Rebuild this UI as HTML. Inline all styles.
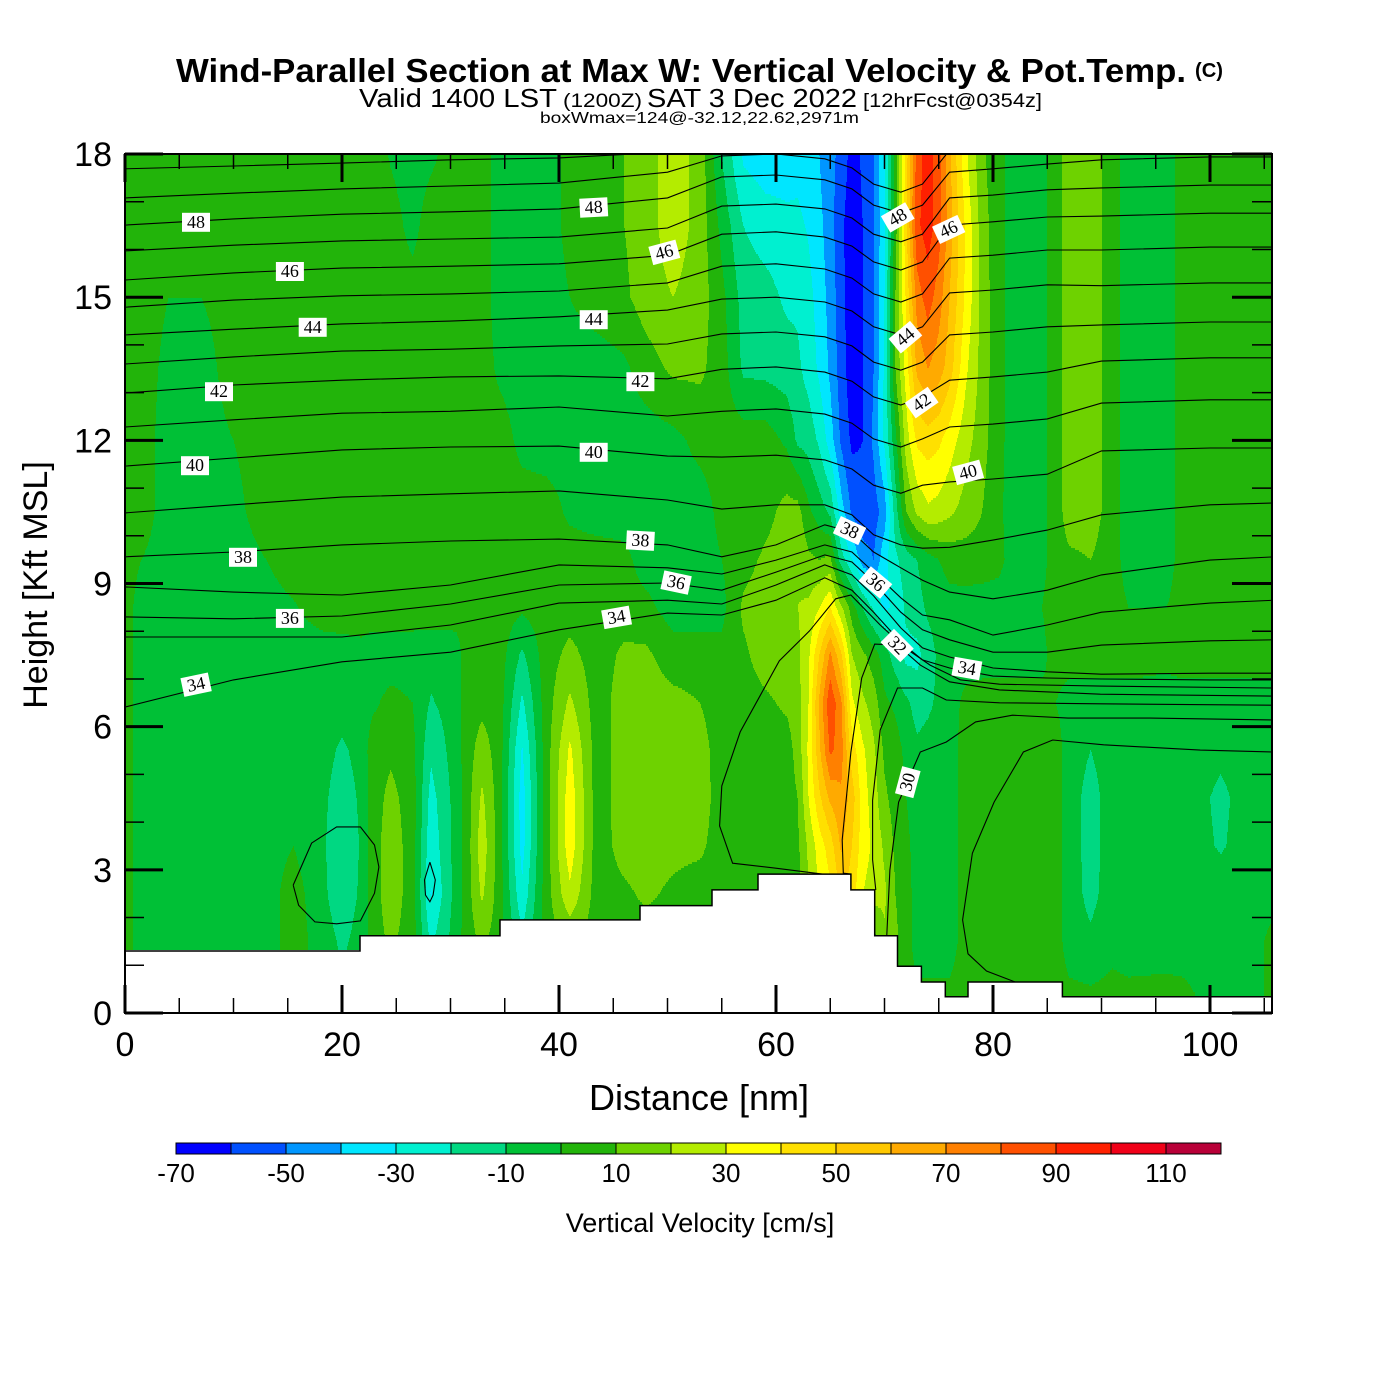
<!DOCTYPE html>
<html><head><meta charset="utf-8"><title>Wind-Parallel Section</title>
<style>
html,body{margin:0;padding:0;background:#fff;}
svg{display:block;}
text{font-family:"Liberation Sans",sans-serif;}
</style></head>
<body>
<svg id="chart" xmlns="http://www.w3.org/2000/svg" width="1400" height="1400" viewBox="0 0 1400 1400">
<rect x="0" y="0" width="1400" height="1400" fill="#fff"/>
<defs><clipPath id="plotclip"><rect x="125" y="154" width="1147" height="859"/></clipPath></defs>
<g>
<text x="176" y="82" font-size="33" font-weight="bold" textLength="1010" lengthAdjust="spacingAndGlyphs">Wind-Parallel Section at Max W: Vertical Velocity &amp; Pot.Temp.</text>
<text x="1195" y="77" font-size="20" font-weight="bold" textLength="28" lengthAdjust="spacingAndGlyphs">(C)</text>
<text x="359" y="107" font-size="26" textLength="198" lengthAdjust="spacingAndGlyphs">Valid 1400 LST</text>
<text x="563" y="107" font-size="19" textLength="79" lengthAdjust="spacingAndGlyphs">(1200Z)</text>
<text x="647" y="107" font-size="26" textLength="210" lengthAdjust="spacingAndGlyphs">SAT 3 Dec 2022</text>
<text x="863" y="107" font-size="19" textLength="179" lengthAdjust="spacingAndGlyphs">[12hrFcst@0354z]</text>
<text x="540" y="123" font-size="16" textLength="319" lengthAdjust="spacingAndGlyphs">boxWmax=124@-32.12,22.62,2971m</text>
</g>
<g id="heat"></g>
<g id="iso" clip-path="url(#plotclip)"></g>
<g id="terrain"></g>
<g id="labels"></g>
<g id="axes"></g>
<g id="cbar"></g>
<text x="699" y="1110" font-size="36" text-anchor="middle">Distance [nm]</text>
<text x="0" y="0" font-size="34" text-anchor="middle" transform="translate(47,585) rotate(-90)">Height [Kft MSL]</text>
<text x="700" y="1232" font-size="27" text-anchor="middle">Vertical Velocity [cm/s]</text>
</svg>
<script>
// ---------- DATA ----------
const gridNm = [0,1.5,4,7,10,13,15.5,18.3,20,21.8,22.8,24.5,26.5,28.2,30.5,31.5,32.9,34.5,36.6,38.8,41,43.5,46,48,50.5,53,55,57,59,61,62,63,64,65,66,67,68,69,70,71,72,73,74,75,76,77.5,79,80.5,82,84.5,85.8,87,89,91,92.5,96,97.5,101,104,106];
const gridKft = [0,1.5,2.5,3.5,4.5,5.5,6.5,7.5,8.5,9.5,10.5,12,13.5,15,16.5,18];
const wByColumn = [
[5,5,5,5,5,5,5,5,5,5,5,5,5,5,5,5],
[-5,-5,-5,-5,-5,-5,-5,-5,-5,0,5,5,5,5,5,5],
[-5,-5,-5,-5,-5,-5,-5,-5,-5,-5,-5,-5,-3,0,5,5],
[-5,-5,-5,-5,-5,-5,-5,-5,-5,-5,-5,-5,-5,0,5,5],
[-5,-5,-5,-5,-5,-5,-5,-5,-5,-5,-3,0,5,5,5,5],
[-5,-5,-5,-5,-5,-5,-5,-5,-4,0,5,5,5,5,5,5],
[5,5,5,0,-5,-5,-5,-5,-1,5,5,5,5,5,5,5],
[-5,-5,-8,-9,-8,-6,-5,-5,5,5,5,5,5,5,5,5],
[-5,-12,-17,-17,-16,-12,-5,-4,5,5,5,5,5,5,5,5],
[-5,-6,-8,-9,-8,-6,-5,-3,5,5,5,5,5,5,5,5],
[3,5,5,5,5,5,-2,-5,5,5,5,5,5,5,5,5],
[5,12,16,16,13,8,3,-5,5,5,5,5,5,5,4,-1],
[5,5,5,5,5,3,0,-5,5,5,5,5,5,4,-3,-5],
[-10,-22,-31,-27,-24,-18,-11,-6,5,5,5,5,5,5,5,-2],
[-5,-5,-6,-6,-6,-5,-5,-5,5,5,5,5,5,5,5,5],
[5,5,5,5,5,5,5,5,5,5,5,5,5,5,5,5],
[5,12,22,26,22,15,7,5,5,5,5,5,5,5,5,5],
[5,5,5,5,5,5,5,5,5,5,5,5,-2,-5,-5,-5],
[-5,-18,-28,-34,-35,-31,-22,-12,2,5,5,-3,-5,-5,-5,-5],
[5,5,5,5,5,5,5,5,5,5,5,-5,-5,-5,-5,-5],
[5,12,28,36,36,32,22,13,5,5,-2,-5,-5,0,3,3],
[5,5,5,5,5,5,5,5,5,5,-5,-5,-5,5,5,5],
[5,5,8,14,15,15,15,12,5,3,-5,-5,-2,8,10,10],
[5,5,12,15,16,16,15,12,3,-5,-5,-5,5,15,15,15],
[5,5,8,13,15,15,13,5,-5,-5,-5,-3,12,20,26,26],
[5,5,5,12,15,14,10,5,-5,-5,-5,3,12,15,16,16],
[5,5,5,5,5,5,5,3,-3,0,3,5,5,3,-3,-10],
[5,5,5,5,5,5,5,8,12,6,3,5,-12,-14,-20,-32],
[5,5,5,5,5,5,8,15,16,12,6,5,-13,-16,-25,-36],
[5,5,5,5,5,5,12,16,18,17,14,-2,-15,-22,-27,-36],
[5,5,5,8,10,14,16,18,20,18,14,-12,-18,-22,-28,-33],
[5,5,20,22,30,32,30,28,22,12,2,-14,-24,-27,-31,-36],
[5,5,30,35,48,58,62,50,30,10,-5,-22,-32,-34,-37,-40],
[5,5,38,45,62,82,88,72,40,12,-12,-35,-42,-44,-46,-48],
[5,5,50,62,68,75,72,52,22,-15,-35,-52,-55,-56,-57,-52],
[5,5,45,50,55,45,32,20,5,-30,-52,-62,-66,-67,-68,-65],
[5,5,30,35,35,32,22,12,-10,-45,-57,-60,-60,-60,-60,-58],
[5,5,25,28,25,22,15,5,-22,-50,-55,-48,-50,-50,-50,-50],
[5,18,22,18,12,8,2,-5,-32,-33,-45,-28,-28,-30,-32,-30],
[5,12,10,8,6,5,-2,-15,-28,-22,-15,-3,10,10,5,5],
[5,5,5,3,0,-3,-8,-23,-18,-15,10,25,35,42,48,45],
[5,-5,-5,-5,-5,-8,-14,-23,-14,-10,22,42,62,75,88,85],
[5,-5,-5,-5,-5,-6,-12,-15,-8,-4,28,45,70,85,95,95],
[5,-5,-5,-5,-5,-5,-8,-8,-5,0,26,42,65,75,85,85],
[5,-5,-5,-5,-5,-5,-5,-5,-3,3,22,35,55,60,65,62],
[5,5,5,5,5,5,3,-5,-4,5,16,24,32,38,38,32],
[5,5,5,5,5,5,5,-5,-5,5,10,14,16,16,15,12],
[5,5,5,5,5,5,5,-5,-5,3,2,3,3,3,3,3],
[5,5,5,5,5,5,5,-5,-5,-5,-5,-5,-5,-5,-5,-5],
[5,5,5,5,5,5,3,-3,0,-3,-3,-3,-3,-3,-3,-3],
[5,5,5,5,5,5,0,5,5,5,5,5,5,5,5,5],
[5,-5,-5,-5,-5,-5,-5,5,5,8,15,15,15,15,15,15],
[5,-8,-13,-14,-14,-10,-5,5,5,10,15,15,15,15,15,15],
[5,-3,-5,-5,-5,-5,-5,5,5,5,5,5,5,5,5,5],
[5,-5,-5,-5,-5,-5,-5,5,0,-5,-5,-5,-5,-5,-5,-5],
[5,-4,-5,-5,-5,-5,-5,3,0,-5,-5,-5,-5,-5,-5,-5],
[5,-5,-5,-5,-5,-5,-5,5,5,5,5,5,5,5,5,5],
[-5,-5,-5,-11,-12,-8,-5,5,5,5,5,5,5,5,5,5],
[-5,-5,-5,-5,-5,-5,-5,5,5,5,5,5,5,5,5,5],
[5,5,-5,-5,-5,-5,-5,5,5,5,5,5,5,5,5,5]
];
const cbColors = ['#0000ff','#0050ff','#0096ff','#00e6ff','#00f0d0','#00d882','#00c036','#22b40a','#6ed200','#b4ec00','#ffff00','#ffe000','#ffc800','#ffaa00','#ff8000','#ff5000','#ff2000','#f00018','#b80038'];
const cbLabels = [-70,-50,-30,-10,10,30,50,70,90,110];
const terrainStart = [0,21.66,34.56,47.47,54.1,58.34,66.9,69.1,71.2,73.4,75.6,77.7,86.4];
const terrainEnd = [21.66,34.56,47.47,54.1,58.34,66.9,69.1,71.2,73.4,75.6,77.7,86.4,106];
const terrainKft = [1.3,1.62,1.95,2.25,2.58,2.91,2.58,1.62,0.98,0.65,0.34,0.65,0.34];
const isoNodes = [0,10,20,30,40,50,55,60,64.5,67,69,71.5,73.5,76,80,85,90,100,106];
const isoThetas = [50,49,48,47,46,45,44,43,42,41,40,39,38,37,36,35,34];
const isoHeights = [
[17.69,17.75,17.81,17.88,17.92,18.04,18.3,18.3,18.3,18.3,18.2,18.2,18.3,18.3,18.3,18.3,18.3,18.3,18.3],
[17.08,17.18,17.27,17.33,17.39,17.62,17.96,18.0,17.9,17.71,17.37,17.2,17.37,18.08,18.13,18.19,18.19,18.19,18.19],
[16.51,16.64,16.74,16.79,16.85,17.08,17.52,17.56,17.46,17.27,16.93,16.76,16.93,17.62,17.69,17.79,17.88,17.94,17.94],
[15.97,16.09,16.18,16.22,16.26,16.45,16.91,16.95,16.85,16.66,16.32,16.16,16.32,17.08,17.14,17.25,17.29,17.35,17.35],
[15.36,15.51,15.61,15.65,15.70,15.88,16.32,16.37,16.26,16.07,15.74,15.57,15.74,16.51,16.58,16.68,16.70,16.76,16.76],
[14.79,14.94,15.03,15.07,15.13,15.30,15.65,15.70,15.59,15.40,15.07,14.90,15.07,15.82,15.88,15.99,15.99,16.05,16.05],
[14.21,14.33,14.44,14.50,14.59,14.73,14.96,15.0,14.90,14.71,14.38,14.21,14.38,15.09,15.15,15.26,15.24,15.30,15.30],
[13.60,13.75,13.87,13.91,13.98,14.02,14.23,14.27,14.17,13.98,13.64,13.47,13.64,14.21,14.27,14.38,14.42,14.48,14.48],
[12.99,13.16,13.26,13.33,13.35,13.29,13.49,13.54,13.43,13.24,12.91,12.74,12.91,13.26,13.33,13.43,13.66,13.73,13.73],
[12.28,12.43,12.57,12.61,12.70,12.51,12.61,12.66,12.55,12.36,12.03,11.86,12.03,12.28,12.34,12.45,12.78,12.85,12.85],
[11.46,11.63,11.80,11.86,11.88,11.67,11.65,11.69,11.59,11.40,11.06,10.89,11.06,11.13,11.19,11.29,11.78,11.84,11.84],
[10.48,10.65,10.81,10.88,10.94,10.75,10.56,10.65,10.65,10.44,10.02,9.81,9.74,9.76,9.91,10.12,10.44,10.65,10.69],
[9.56,9.66,9.81,9.89,9.93,9.81,9.56,9.81,10.23,10.08,9.66,9.33,9.07,8.82,8.68,8.86,9.18,9.49,9.56],
[8.93,8.82,8.76,8.97,9.39,9.33,9.20,9.49,9.81,9.66,9.24,8.70,8.34,8.24,7.92,8.13,8.40,8.59,8.65],
[8.30,8.26,8.32,8.57,8.97,9.01,8.86,9.24,9.60,9.45,9.03,8.40,8.03,7.82,7.56,7.56,7.71,7.80,7.82],
[7.88,7.88,7.88,8.13,8.59,8.65,8.57,8.97,9.39,9.18,8.74,8.07,7.65,7.46,7.23,7.15,7.10,7.12,7.12],
[6.41,6.98,7.36,7.56,8.03,8.38,8.34,8.65,9.12,8.86,8.40,7.77,7.40,7.23,7.06,7.02,7.00,6.98,6.98]
];
const theta33 = [[65.0,2.89],[59.8,3.04],[56.0,3.14],[54.8,3.92],[55.0,4.76],[56.7,5.89],[60.3,7.38],[63.1,8.01],[65.5,8.68],[66.9,8.76],[69.6,8.13],[71.9,7.65],[74.2,7.29],[77.0,6.98],[80.6,6.89],[89.9,6.85],[105.7,6.81]];
const theta32 = [[66.9,2.91],[66.2,2.93],[66.1,3.63],[66.9,5.47],[67.9,7.02],[69.1,7.73],[71.2,7.71],[73.3,7.29],[76.0,6.94],[80.6,6.77],[89.9,6.68],[105.7,6.64]];
const theta31 = [[69.2,2.58],[68.9,3.21],[68.9,4.46],[69.6,5.93],[71.2,6.81],[73.5,6.81],[75.7,6.56],[80.6,6.5],[89.9,6.48],[105.7,6.45]];
const theta30 = [[70.2,1.59],[70.5,3.0],[71.3,4.42],[72.1,4.84],[73.3,5.47],[75.7,5.68],[78.4,6.1],[81.8,6.24],[86.9,6.18],[94.5,6.18],[105.7,6.14]];
const theta29 = [[87.9,0.25],[82.5,0.61],[79.4,0.88],[77.7,1.24],[77.2,1.95],[78.1,3.35],[80.1,4.42],[82.8,5.47],[85.5,5.72],[90.2,5.62],[99.1,5.51],[105.7,5.47]];
const coldPoolLoop = [[15.5,2.68],[17.2,3.56],[19.5,3.9],[21.7,3.9],[23.0,3.52],[23.4,3.06],[23.0,2.51],[21.7,1.93],[19.5,1.87],[17.5,1.91],[16.0,2.26],[15.5,2.68]];
const smallLoop = [[28.1,3.16],[28.6,2.79],[28.4,2.47],[28.1,2.33],[27.7,2.47],[27.6,2.79],[28.1,3.16]];
const labelText = ['48','46','44','42','40','38','36','34','48','46','44','42','40','38','36','34','48','46','44','42','40','38','36','32','34','30'];
const labelNm = [6.54,15.2,17.3,8.66,6.45,10.88,15.2,6.54,43.2,49.7,43.2,47.5,43.2,47.5,50.8,45.3,71.2,75.9,71.9,73.4,77.7,66.8,69.2,71.2,77.6,72.1];
const labelKft = [16.58,15.55,14.38,13.03,11.48,9.56,8.28,6.89,16.89,15.95,14.54,13.24,11.76,9.91,9.03,8.30,16.68,16.43,14.17,12.80,11.34,10.12,9.03,7.71,7.23,4.84];
const labelAngle = [0,0,0,0,0,0,0,-12,-3,-15,0,0,0,3,12,-10,-30,-25,-40,-35,-15,25,40,45,10,-75];
const xTicks = [0,20,40,60,80,100];
const yTicks = [0,3,6,9,12,15,18];

// ---------- AXIS FUNCTIONS ----------
const PX0=125, PX1=1272, PY0=1013, PY1=154;
const xS = nm => PX0 + nm*10.85;
const yS = k => PY0 - k*47.72;
const xInv = px => (px-PX0)/10.85;
const yInv = py => (PY0-py)/47.72;
const NS='http://www.w3.org/2000/svg';
function mk(tag, attrs, parent){const e=document.createElementNS(NS,tag);for(const k in attrs)e.setAttribute(k,attrs[k]);parent.appendChild(e);return e;}

function seg(arr,v){let i=0;while(i<arr.length-2&&v>arr[i+1])i++;return i;}
function wAt(nm,k){
  const i=seg(gridNm,nm), j=seg(gridKft,k);
  let tx=(nm-gridNm[i])/(gridNm[i+1]-gridNm[i]); tx=Math.max(0,Math.min(1,tx));
  let ty=(k-gridKft[j])/(gridKft[j+1]-gridKft[j]); ty=Math.max(0,Math.min(1,ty));
  const a=wByColumn[i][j],b=wByColumn[i+1][j],c=wByColumn[i][j+1],d=wByColumn[i+1][j+1];
  return (a*(1-tx)+b*tx)*(1-ty)+(c*(1-tx)+d*tx)*ty;
}
function terrainAt(nm){for(let i=0;i<terrainStart.length;i++){if(nm>=terrainStart[i]&&nm<terrainEnd[i])return terrainKft[i];}return terrainKft[terrainKft.length-1];}
function cIdx(v){return Math.max(0,Math.min(cbColors.length-1,Math.floor((v+70)/10)));}

// ---------- HEATMAP ----------
const heat=document.getElementById('heat');
const STEP=2;
for(let py=PY1;py<PY0;py+=STEP){
  const k=yInv(py+STEP/2);
  let runStart=null, runColor=null;
  for(let px=PX0;px<=PX1;px++){
    let ci=-1;
    if(px<PX1){const nm=xInv(px+0.5); if(k>=terrainAt(nm)) ci=cIdx(wAt(nm,k));}
    if(ci!==runColor){
      if(runColor!==null&&runColor>=0){
        const r=mk('rect',{x:runStart,y:py,width:px-runStart,height:STEP,fill:cbColors[runColor]},heat);
        
        
      }
      runStart=px; runColor=ci;
    }
  }
}

// ---------- ISENTROPES ----------
const iso=document.getElementById('iso');
function drawLine(pts,name){
  const d=pts.map((p,i)=>(i?'L':'M')+xS(p[0]).toFixed(1)+' '+yS(p[1]).toFixed(1)).join(' ');
  const p=mk('path',{d:d,fill:'none',stroke:'#000','stroke-width':1.1},iso);
  
  
}
isoThetas.forEach((th,t)=>{
  drawLine(isoNodes.map((n,i)=>[n,isoHeights[t][i]]),'isentrope-'+th);
});
drawLine(theta33,'isentrope-33');
drawLine(theta32,'isentrope-32');
drawLine(theta31,'isentrope-31');
drawLine(theta30,'isentrope-30');
drawLine(theta29,'isentrope-29');
drawLine(coldPoolLoop,'isentrope-loop-left');
drawLine(smallLoop,'isentrope-loop-small');

// ---------- TERRAIN ----------
const ter=document.getElementById('terrain');
let td='M'+xS(0)+' '+PY0;
for(let i=0;i<terrainStart.length;i++){
  td+=' L'+xS(terrainStart[i]).toFixed(1)+' '+yS(terrainKft[i]).toFixed(1)+' L'+Math.min(PX1,xS(terrainEnd[i])).toFixed(1)+' '+yS(terrainKft[i]).toFixed(1);
}
td+=' L'+PX1+' '+PY0+' Z';
const tp=mk('path',{d:td,fill:'#fff',stroke:'#000','stroke-width':1.5},ter);



// ---------- CONTOUR LABELS ----------
const lab=document.getElementById('labels');
labelText.forEach((t,i)=>{
  const g=mk('g',{transform:'translate('+xS(labelNm[i]).toFixed(1)+','+yS(labelKft[i]).toFixed(1)+') rotate('+labelAngle[i]+')'},lab);
  
  
  mk('rect',{x:-14,y:-9,width:28,height:19,fill:'#fff'},g);
  const tx=mk('text',{x:0,y:6,'font-size':18,'text-anchor':'middle',style:'font-family:"Liberation Serif",serif'},g);
  tx.textContent=t;
});

// ---------- AXES ----------
const ax=document.getElementById('axes');
const fr=mk('rect',{x:PX0,y:PY1,width:PX1-PX0,height:PY0-PY1,fill:'none',stroke:'#000','stroke-width':2},ax);


for(let v=0;v<=105;v+=5){
  const major=v%20===0, x=xS(v), L=major?28:15, w=major?3:1.5;
  mk('line',{x1:x,y1:PY0,x2:x,y2:PY0-L,stroke:'#000','stroke-width':w},ax);
  mk('line',{x1:x,y1:PY1,x2:x,y2:PY1+L,stroke:'#000','stroke-width':w},ax);
}
for(let v=0;v<=18;v++){
  const major=v%3===0, y=yS(v);
  mk('line',{x1:PX0,y1:y,x2:PX0+(major?38:19),y2:y,stroke:'#000','stroke-width':major?3:1.5},ax);
  mk('line',{x1:PX1,y1:y,x2:PX1-(major?40:20),y2:y,stroke:'#000','stroke-width':major?3:1.5},ax);
}
xTicks.forEach(v=>{
  const t=mk('text',{x:xS(v),y:1056,'font-size':34,'text-anchor':'middle'},ax);
  
  
  t.textContent=v;
});
yTicks.forEach(v=>{
  const t=mk('text',{x:112,y:yS(v)+12,'font-size':34,'text-anchor':'end'},ax);
  
  
  t.textContent=v;
});

// ---------- COLORBAR ----------
const cb=document.getElementById('cbar');
const cbX = v => 176 + (v+70)*5.5;
cbColors.forEach((c,i)=>{
  const v=-70+i*10;
  const r=mk('rect',{x:cbX(v),y:1143,width:55,height:11,fill:c,stroke:'#000','stroke-width':1},cb);
  
  
});
cbLabels.forEach(v=>{
  const t=mk('text',{x:cbX(v),y:1182,'font-size':26,'text-anchor':'middle'},cb);
  
  
  t.textContent=v;
});
</script>
</body></html>
